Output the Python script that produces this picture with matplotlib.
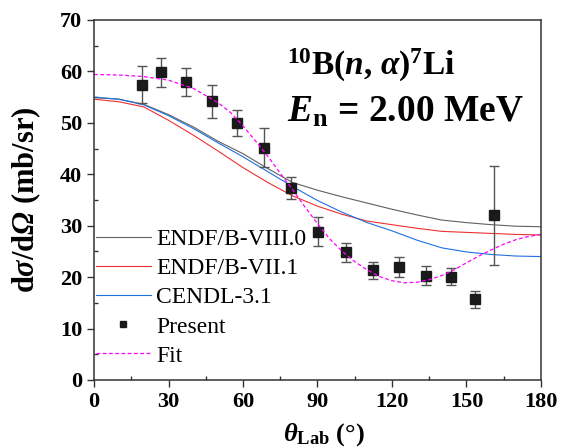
import matplotlib
matplotlib.use("Agg")
import matplotlib.pyplot as plt
from matplotlib.ticker import MultipleLocator

plt.rcParams['font.family'] = ['Liberation Serif', 'DejaVu Serif']
plt.rcParams['mathtext.fontset'] = 'custom'
plt.rcParams['mathtext.rm'] = 'Liberation Serif'
plt.rcParams['mathtext.it'] = 'Liberation Serif:italic'
plt.rcParams['mathtext.bf'] = 'Liberation Serif:bold'
plt.rcParams['mathtext.bfit'] = 'Liberation Serif:italic:bold'

# measured points
theta = [19.2, 27.0, 36.9, 47.4, 57.5, 68.3, 79.3, 90.4, 101.3, 112.2, 122.9, 133.6, 143.9, 153.4, 160.9]
xs = [57.4, 59.8, 57.9, 54.2, 49.9, 45.2, 37.3, 28.8, 24.8, 21.3, 22.0, 20.3, 20.1, 15.7, 32.0]
err = [3.6, 2.8, 2.7, 3.2, 2.5, 3.7, 2.2, 2.8, 1.8, 1.6, 2.0, 1.8, 1.7, 1.7, 9.6]

# evaluated libraries
ang = [0, 10, 20, 30, 40, 50, 60, 70, 80, 90, 100, 110, 120, 130, 140, 150, 160, 170, 180]
endf8 = [54.9, 54.6, 53.6, 51.6, 49.2, 46.4, 44.0, 41.1, 38.4, 36.9, 35.6, 34.4, 33.2, 32.1, 31.1, 30.6, 30.2, 29.9, 29.8]
endf7 = [54.6, 54.1, 53.1, 50.5, 47.6, 44.5, 41.3, 38.4, 35.8, 33.8, 32.2, 30.9, 30.2, 29.5, 28.9, 28.7, 28.5, 28.3, 28.2]
cendl = [55.0, 54.6, 53.5, 51.4, 48.9, 46.1, 43.4, 40.5, 37.6, 34.9, 32.6, 30.6, 29.0, 27.2, 25.7, 24.9, 24.4, 24.1, 24.0]

# fit curve
fit_ang = [0, 10, 20, 30, 40, 50, 55, 60, 65, 70, 75, 80, 85, 90, 95, 100, 105, 110, 115, 120,
           125, 130, 135, 140, 145, 150, 155, 160, 165, 170, 175, 180]
fit = [59.4, 59.3, 59.0, 58.3, 56.7, 53.9, 52.0, 49.4, 46.5, 43.5, 40.2, 37.0, 33.6, 30.4, 27.4, 25.0,
       23.0, 21.4, 20.1, 19.3, 18.9, 19.0, 19.5, 20.3, 21.4, 22.8, 24.1, 25.3, 26.4, 27.3, 27.9, 28.3]

fig = plt.figure(figsize=(5.61, 4.48), dpi=100)
ax = fig.add_axes([0.1676, 0.1518, 0.7967, 0.8036])

ax.plot(ang, endf8, color='#606060', lw=0.8, label='ENDF/B-VIII.0')
ax.plot(ang, endf7, color='#f03030', lw=0.8, label='ENDF/B-VII.1')
ax.plot(ang, cendl, color='#2070e0', lw=0.8, label='CENDL-3.1')
ax.errorbar(theta, xs, yerr=err, fmt='none', ecolor='#555555', elinewidth=1.0, capsize=3.5, capthick=1.0)
ax.plot(theta, xs, 's', color='#1a1a1a', ms=6.5, label='Present')
ax.plot(fit_ang, fit, '--', color='#ff00ff', lw=0.9, dashes=(3, 2), label='Fit')

ax.set_xlim(0, 180)
ax.set_ylim(0, 70)
ax.xaxis.set_major_locator(MultipleLocator(30))
ax.xaxis.set_minor_locator(MultipleLocator(15))
ax.yaxis.set_major_locator(MultipleLocator(10))
ax.yaxis.set_minor_locator(MultipleLocator(5))
ax.tick_params(which='major', direction='out', length=5, width=1, labelsize=16, color='#333333')
ax.tick_params(which='minor', direction='in', length=3, width=1, color='#333333')
for lab in ax.get_xticklabels() + ax.get_yticklabels():
    lab.set_fontweight('bold')
for sp in ax.spines.values():
    sp.set_linewidth(1.1)
    sp.set_color('#333333')

ax.set_xlabel(r'$\mathbfit{\theta}_{\mathbf{Lab}}$ (°)', fontsize=19, fontweight='bold')
ax.xaxis.set_label_coords(0.515, -0.115)
ax.set_ylabel(r'd$\mathbfit{\sigma}$/d$\mathbfit{\Omega}$ (mb/sr)', fontsize=22, fontweight='bold')
ax.yaxis.set_label_coords(-0.115, 0.5)

ax.text(0.432, 0.847, r'$^{\mathbf{10}}$B($\mathbfit{n}$, $\mathbfit{\alpha}$)$^{\mathbf{7}}$Li',
        transform=ax.transAxes, fontsize=24, fontweight='bold', va='baseline')
ax.text(0.432, 0.717, r'$\mathbfit{E}_{\mathbf{n}}$ = 2.00 MeV',
        transform=ax.transAxes, fontsize=27, fontweight='bold', va='baseline')

ax.legend(loc='upper left', bbox_to_anchor=(0.005, 0.42), frameon=False, fontsize=17,
          handlelength=2.3, handletextpad=0.25, labelspacing=0.32, borderaxespad=0, borderpad=0.0,
          markerscale=0.75)

fig.savefig('out.png', dpi=100)
